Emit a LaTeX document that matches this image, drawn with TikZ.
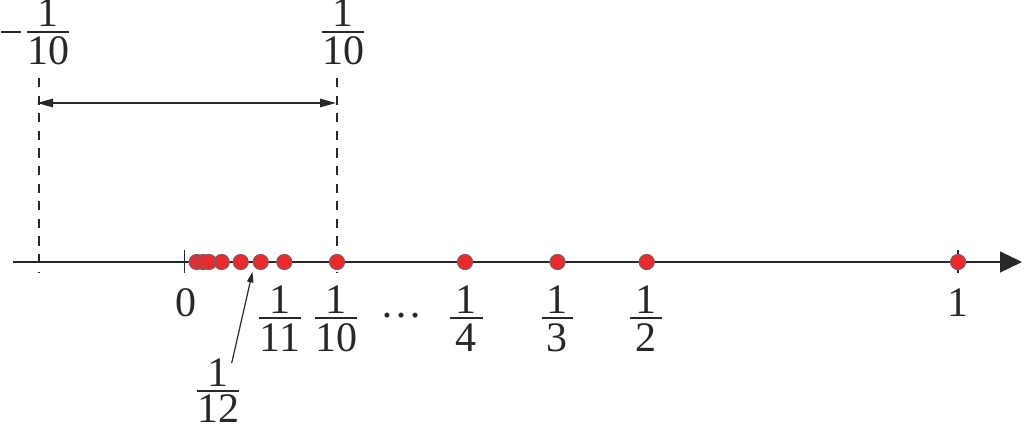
\documentclass[tikz,border=0pt]{standalone}
\usepackage{fontspec}
\setmainfont{Liberation Serif}
\usetikzlibrary{arrows.meta}
\definecolor{dotred}{RGB}{238,40,45}
\definecolor{ink}{RGB}{40,40,40}
\newcommand{\fracat}[7]{%
  \node[lbl,anchor=base] (#1n) at (#2,#3-5) {#4};
  \node[lbl,anchor=base] (#1d) at (#2,#3+#7) {#5};
  \draw[fracbar] (#2-#6/2,#3) -- (#2+#6/2,#3);
}
\begin{document}
\begin{tikzpicture}[x=0.25pt,y=-0.25pt,
  lbl/.style={font=\fontsize{10.5}{12}\selectfont, text=ink, inner sep=0pt},
  fracbar/.style={draw=ink, line width=0.4pt},
  axisline/.style={draw=ink, line width=0.5pt, -{Triangle[length=5.5pt,width=5.2pt]}},
  guide/.style={draw=ink, line width=0.35pt, dash pattern=on 2.3pt off 2.1pt},
  tick/.style={draw=ink, line width=0.35pt},
  span/.style={draw=ink, line width=0.4pt, {Triangle[length=4pt,width=2.1pt]}-{Triangle[length=4pt,width=2.1pt]}},
  pointer/.style={draw=ink, line width=0.3pt, -{Triangle[length=2.6pt,width=1.6pt]}},
  dot/.style={circle, fill=dotred, draw=ink!70, line width=0.25pt, minimum size=3.8pt, inner sep=0pt}]
\useasboundingbox (0,0) rectangle (1024,427);
% axis
\coordinate (axs) at (13,262);
\coordinate (axe) at (1022,262);
\draw[axisline] (axs) -- (axe);
% guides
\coordinate (gl1) at (39,78);
\coordinate (gl2) at (39,273);
\coordinate (gr1) at (337,78);
\coordinate (gr2) at (337,273);
\draw[guide] (gl1) -- (gl2);
\draw[guide] (gr1) -- (gr2);
% ticks
\coordinate (t0a) at (184.5,250);
\coordinate (t0b) at (184.5,273);
\coordinate (t1a) at (958,250);
\coordinate (t1b) at (958,273);
\draw[tick] (t0a) -- (t0b);
\draw[tick] (t1a) -- (t1b);
% span arrow
\coordinate (sl) at (37,103);
\coordinate (sr) at (336,103);
\draw[span] (sl) -- (sr);
% dots
\foreach \x [count=\i] in {196.7,203.3,209,221.7,240.7,260.7,284.3,337,465,557.5,646.7,958}
  \node[dot] (d\i) at (\x,262) {};
% top labels: minus sign
\coordinate (mina) at (1,32);
\coordinate (minb) at (21,32);
\draw[fracbar, line width=0.45pt] (mina) -- (minb);
\fracat{tl}{48}{32}{1}{10}{42}{33}
\fracat{tr}{343}{32}{1}{10}{42}{33}
% bottom labels
\node[lbl,anchor=base] (zero) at (186,316) {0};
\node[lbl,anchor=base] (one) at (958,316) {1};
\node[lbl,anchor=base] (dots) at (401,317) {…};
\fracat{ba}{280}{318}{1}{11}{42}{33}
\fracat{bb}{336}{318}{1}{10}{42}{33}
\fracat{bc}{466}{318}{1}{4}{33}{33}
\fracat{bd}{557}{318}{1}{3}{31}{33}
\fracat{be}{646}{318}{1}{2}{32}{33}
\fracat{bf}{218}{391}{1}{12}{42}{31}
% pointer
\coordinate (ptail) at (231.7,363);
\coordinate (phead) at (252.5,272);
\draw[pointer] (ptail) -- (phead);
\end{tikzpicture}
\end{document}
